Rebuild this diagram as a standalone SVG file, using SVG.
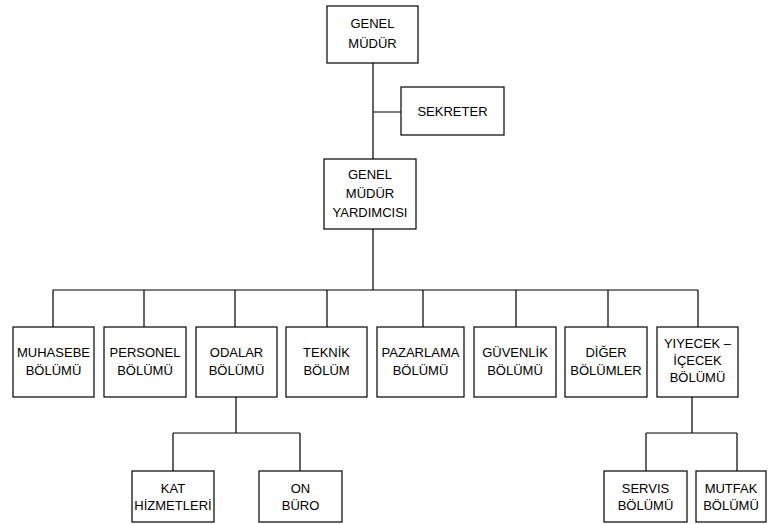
<svg xmlns="http://www.w3.org/2000/svg" width="768" height="524" viewBox="0 0 768 524">
<style>
.b{fill:#fff;stroke:#000;stroke-width:1.2}
.t{font-family:"Liberation Sans",Arial,sans-serif;font-size:13px;fill:#000;text-anchor:middle}
.c{stroke:#000;stroke-width:1.2;fill:none}
</style>
<rect width="768" height="524" fill="#fff"/>
<g id="connectors">
<path class="c" d="M373 63V290M373 112H401M53 290H698M53 290V327M144 290V327M235 290V327M327 290V327M423 290V327M516 290V327M608 290V327M698 290V327"/>
<path class="c" d="M236 397V433M173 433H300M173 433V471M300 433V471"/>
<path class="c" d="M692 397V433M646 433H737M646 433V471M737 433V471"/>
</g>
<g id="genel-mudur"><rect class="b" x="327" y="6" width="91" height="57"/><text class="t" x="372.5" y="28">GENEL</text><text class="t" x="372.5" y="48">MÜDÜR</text></g>
<g id="sekreter"><rect class="b" x="401" y="87" width="103" height="48"/><text class="t" x="452.5" y="116">SEKRETER</text></g>
<g id="gmy"><rect class="b" x="324" y="159" width="92" height="70"/><text class="t" x="370" y="179">GENEL</text><text class="t" x="370" y="198">MÜDÜR</text><text class="t" x="370" y="217">YARDIMCISI</text></g>
<g id="muhasebe"><rect class="b" x="13" y="327" width="81" height="70"/><text class="t" x="53.5" y="357">MUHASEBE</text><text class="t" x="53.5" y="375">BÖLÜMÜ</text></g>
<g id="personel"><rect class="b" x="104" y="327" width="82" height="70"/><text class="t" x="145" y="357">PERSONEL</text><text class="t" x="145" y="375">BÖLÜMÜ</text></g>
<g id="odalar"><rect class="b" x="196" y="327" width="81" height="70"/><text class="t" x="236.5" y="357">ODALAR</text><text class="t" x="236.5" y="375">BÖLÜMÜ</text></g>
<g id="teknik"><rect class="b" x="286" y="327" width="81" height="70"/><text class="t" x="326.5" y="357">TEKNİK</text><text class="t" x="326.5" y="375">BÖLÜM</text></g>
<g id="pazarlama"><rect class="b" x="377" y="327" width="87" height="70"/><text class="t" x="420.5" y="357">PAZARLAMA</text><text class="t" x="420.5" y="375">BÖLÜMÜ</text></g>
<g id="guvenlik"><rect class="b" x="474" y="327" width="82" height="70"/><text class="t" x="515" y="357">GÜVENLİK</text><text class="t" x="515" y="375">BÖLÜMÜ</text></g>
<g id="diger"><rect class="b" x="565" y="327" width="82" height="70"/><text class="t" x="606" y="357">DİĞER</text><text class="t" x="606" y="375">BÖLÜMLER</text></g>
<g id="yiyecek"><rect class="b" x="657" y="327" width="81" height="70"/><text class="t" x="697.5" y="348">YIYECEK –</text><text class="t" x="697.5" y="365">İÇECEK</text><text class="t" x="697.5" y="382">BÖLÜMÜ</text></g>
<g id="kat"><rect class="b" x="132" y="471" width="82" height="51"/><text class="t" x="173" y="493">KAT</text><text class="t" x="173" y="510">HİZMETLERİ</text></g>
<g id="onburo"><rect class="b" x="259" y="471" width="83" height="51"/><text class="t" x="300.5" y="493">ON</text><text class="t" x="300.5" y="510">BÜRO</text></g>
<g id="servis"><rect class="b" x="604" y="471" width="83" height="51"/><text class="t" x="645.5" y="493">SERVIS</text><text class="t" x="645.5" y="510">BÖLÜMÜ</text></g>
<g id="mutfak"><rect class="b" x="696" y="471" width="70" height="51"/><text class="t" x="731" y="493">MUTFAK</text><text class="t" x="731" y="510">BÖLÜMÜ</text></g>
</svg>
